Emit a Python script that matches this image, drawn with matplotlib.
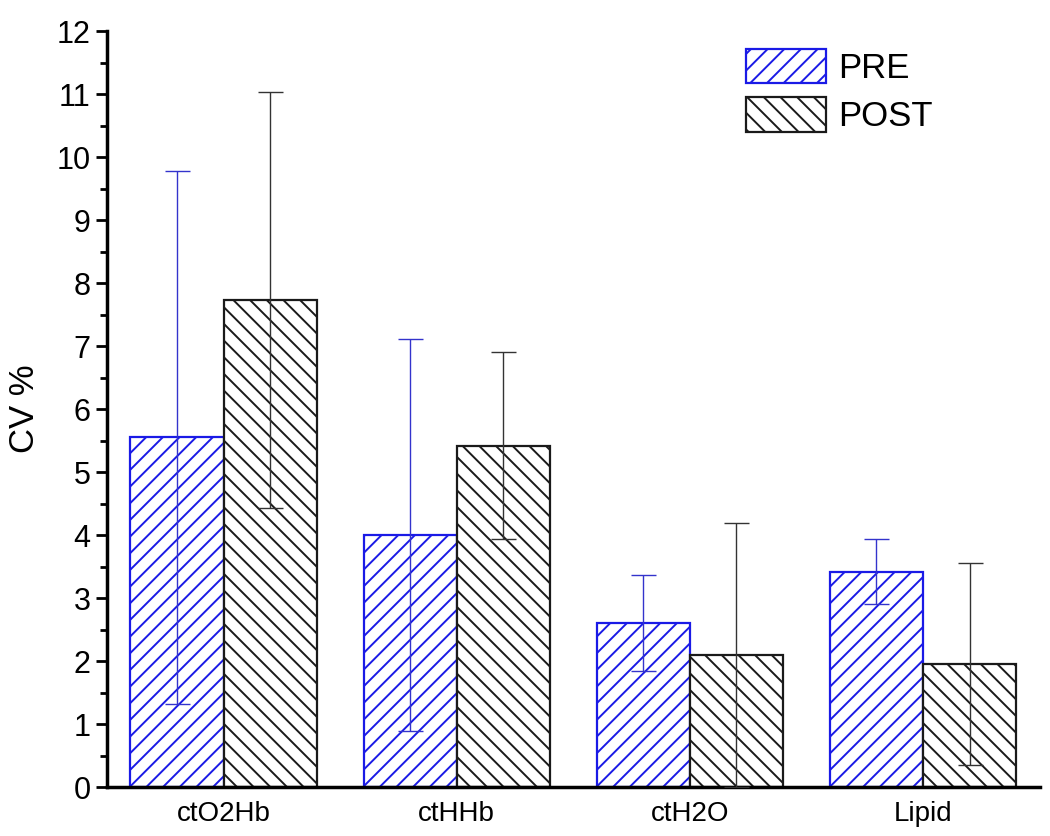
import matplotlib

matplotlib.use("Agg")
import matplotlib.pyplot as plt
import numpy as np

plt.rcParams["font.family"] = ["Liberation Sans", "DejaVu Sans"]
plt.rcParams["hatch.linewidth"] = 1.4

categories = ["ctO2Hb", "ctHHb", "ctH2O", "Lipid"]
pre_vals = [5.55, 4.0, 2.6, 3.42]
pre_err = [4.23, 3.11, 0.76, 0.52]
post_vals = [7.73, 5.42, 2.1, 1.95]
post_err = [3.3, 1.48, 2.1, 1.6]

x = np.arange(len(categories))
w = 0.4

fig = plt.figure(figsize=(10.5, 8.36), dpi=100)
ax = fig.add_axes([0.102, 0.0586, 0.888, 0.904])

ax.bar(x - w / 2, pre_vals, width=w, facecolor="white", edgecolor="#1a1ae6",
       hatch="//", linewidth=1.6, label="PRE", zorder=2)
ax.bar(x + w / 2, post_vals, width=w, facecolor="white", edgecolor="#1a1a1a",
       hatch="\\\\", linewidth=1.6, label="POST", zorder=2)
ax.errorbar(x - w / 2, pre_vals, yerr=pre_err, fmt="none", ecolor="#3333cc",
            elinewidth=1.0, capsize=9, capthick=1.0, zorder=3)
ax.errorbar(x + w / 2, post_vals, yerr=post_err, fmt="none", ecolor="#333333",
            elinewidth=1.0, capsize=9, capthick=1.0, zorder=3)

ax.set_xlim(-0.5, 3.5)
ax.set_ylim(0, 12)
ax.set_yticks(np.arange(0, 13, 1))
ax.set_yticks(np.arange(0.5, 12, 1), minor=True)
ax.set_xticks(x)
ax.set_xticklabels(categories, fontsize=20)
ax.tick_params(axis="x", length=0, pad=10)
ax.tick_params(axis="y", which="major", length=8, width=2, labelsize=22, pad=4)
ax.tick_params(axis="y", which="minor", length=5, width=2)
ax.set_ylabel("CV %", fontsize=25)
ax.yaxis.set_label_coords(-0.071, 0.5)

for s in ["top", "right"]:
    ax.spines[s].set_visible(False)
for s in ["left", "bottom"]:
    ax.spines[s].set_linewidth(2.5)

ax.legend(loc="upper left", bbox_to_anchor=(0.652, 1.018), frameon=False,
          fontsize=25, handlelength=2.3, handleheight=1.15,
          handletextpad=0.35, labelspacing=0.35)

fig.savefig("out.png", dpi=100)
